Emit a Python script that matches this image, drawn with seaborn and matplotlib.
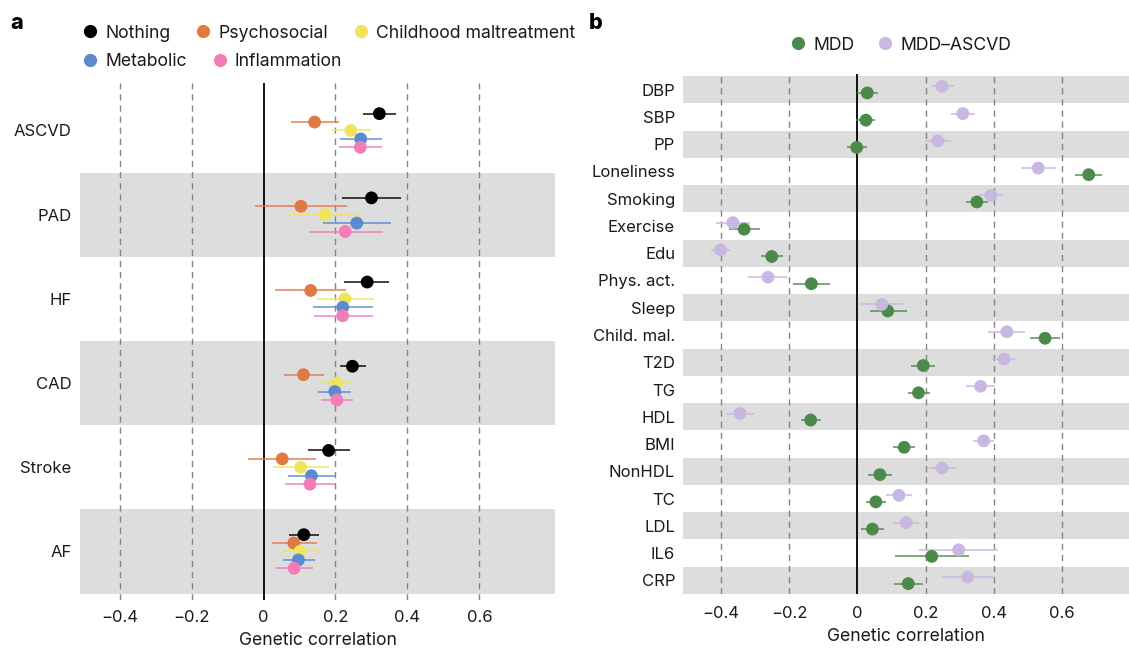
import numpy as np
import pandas as pd
import matplotlib
matplotlib.use("Agg")
import matplotlib.pyplot as plt
from matplotlib.lines import Line2D
import seaborn as sns

# ---------------- Panel a: CVD outcomes, rg with MDD under adjustments ----------------
outcomes = ["ASCVD", "PAD", "HF", "CAD", "Stroke", "AF"]
adjustments = ["Nothing", "Psychosocial", "Childhood maltreatment", "Metabolic", "Inflammation"]

nothing_est = [0.322, 0.300, 0.288, 0.247, 0.181, 0.112]
nothing_lo = [0.276, 0.217, 0.225, 0.212, 0.123, 0.071]
nothing_hi = [0.367, 0.381, 0.349, 0.284, 0.239, 0.154]

psycho_est = [0.142, 0.104, 0.131, 0.111, 0.052, 0.084]
psycho_lo = [0.076, -0.024, 0.032, 0.056, -0.043, 0.024]
psycho_hi = [0.211, 0.232, 0.229, 0.167, 0.146, 0.148]

child_est = [0.243, 0.171, 0.226, 0.203, 0.103, 0.101]
child_lo = [0.189, 0.068, 0.148, 0.158, 0.025, 0.050]
child_hi = [0.298, 0.274, 0.307, 0.250, 0.181, 0.154]

metab_est = [0.270, 0.259, 0.220, 0.198, 0.133, 0.097]
metab_lo = [0.212, 0.165, 0.138, 0.152, 0.067, 0.053]
metab_hi = [0.329, 0.354, 0.303, 0.243, 0.200, 0.143]

inflam_est = [0.269, 0.227, 0.220, 0.204, 0.129, 0.085]
inflam_lo = [0.211, 0.125, 0.141, 0.161, 0.059, 0.035]
inflam_hi = [0.328, 0.331, 0.303, 0.250, 0.200, 0.137]

# ---------------- Panel b: traits, rg with MDD and MDD-ASCVD ----------------
traits = ["DBP", "SBP", "PP", "Loneliness", "Smoking", "Exercise", "Edu",
          "Phys. act.", "Sleep", "Child. mal.", "T2D", "TG", "HDL", "BMI",
          "NonHDL", "TC", "LDL", "IL6", "CRP"]
groups_b = ["MDD", "MDD\u2013ASCVD"]

mdd_est = [0.029, 0.025, -0.002, 0.678, 0.350, -0.332, -0.251, -0.135, 0.089, 0.550,
           0.193, 0.179, -0.137, 0.137, 0.066, 0.054, 0.044, 0.218, 0.149]
mdd_lo = [0.000, -0.004, -0.030, 0.639, 0.318, -0.377, -0.283, -0.188, 0.036, 0.505,
          0.157, 0.148, -0.165, 0.103, 0.032, 0.024, 0.012, 0.109, 0.106]
mdd_hi = [0.059, 0.053, 0.027, 0.716, 0.383, -0.286, -0.219, -0.080, 0.144, 0.595,
          0.228, 0.212, -0.106, 0.169, 0.101, 0.084, 0.077, 0.328, 0.193]

ascvd_est = [0.248, 0.309, 0.236, 0.530, 0.391, -0.365, -0.401, -0.262, 0.071, 0.438,
             0.430, 0.361, -0.344, 0.370, 0.248, 0.122, 0.143, 0.297, 0.323]
ascvd_lo = [0.215, 0.273, 0.199, 0.479, 0.356, -0.414, -0.430, -0.320, 0.011, 0.384,
            0.394, 0.318, -0.383, 0.338, 0.209, 0.083, 0.103, 0.182, 0.248]
ascvd_hi = [0.283, 0.344, 0.275, 0.582, 0.427, -0.314, -0.372, -0.206, 0.134, 0.492,
            0.466, 0.404, -0.304, 0.401, 0.288, 0.160, 0.182, 0.413, 0.400]

xticks = [-0.4, -0.2, 0, 0.2, 0.4, 0.6]
xtick_labels = ["\u22120.4", "\u22120.2", "0", "0.2", "0.4", "0.6"]

pal_a = {"Nothing": "#000000", "Psychosocial": "#E07A45",
         "Childhood maltreatment": "#EEE55C", "Metabolic": "#5B8AD1",
         "Inflammation": "#F27DB9"}
pal_b = {"MDD": "#4C8A4C", "MDD\u2013ASCVD": "#C8B7E1"}

sns.set_theme(style="white")
plt.rcParams["font.family"] = ["Inter", "DejaVu Sans"]
TXT = "#1a1a1a"
BAND = "#DDDDDD"
FS = 12          # tick labels
FS_LAB = 12.7    # axis titles and legend entries

# long-format tables
rows = []
series_a = [(nothing_est, nothing_lo, nothing_hi), (psycho_est, psycho_lo, psycho_hi),
            (child_est, child_lo, child_hi), (metab_est, metab_lo, metab_hi),
            (inflam_est, inflam_lo, inflam_hi)]
for k, (adj, (e, lo, hi)) in enumerate(zip(adjustments, series_a)):
    for i, oc in enumerate(outcomes):
        rows.append(dict(outcome=oc, adj=adj, rg=e[i], lo=lo[i], hi=hi[i],
                         y=i + (k - 2) * 0.1))
df_a = pd.DataFrame(rows)

rows = []
series_b = [(mdd_est, mdd_lo, mdd_hi), (ascvd_est, ascvd_lo, ascvd_hi)]
offs_b = [0.12, -0.12]
for g, (e, lo, hi), off in zip(groups_b, series_b, offs_b):
    for i, t in enumerate(traits):
        rows.append(dict(trait=t, group=g, rg=e[i], lo=lo[i], hi=hi[i], y=i + off))
df_b = pd.DataFrame(rows)

W, H = 1129, 649
fig = plt.figure(figsize=(W / 100, H / 100), dpi=100)


def px_axes(l, t, r, b):
    return fig.add_axes([l / W, 1 - b / H, (r - l) / W, (b - t) / H])


def style_axis(ax, n, bands, xlim, ylim, labels, ypad, xpad):
    ax.set_xlim(*xlim)
    ax.set_ylim(*ylim)
    for i in bands:
        ax.axhspan(i - 0.5, i + 0.5, color=BAND, lw=0, zorder=0)
    for xv in xticks:
        if xv != 0:
            ax.axvline(xv, color="#858585", lw=1.0, ls=(0, (4.5, 3.5)), zorder=1)
    ax.axvline(0, color="black", lw=1.3, zorder=1)
    ax.set_xticks(xticks)
    ax.set_xticklabels(xtick_labels)
    ax.set_yticks(range(n))
    ax.set_yticklabels(labels)
    ax.tick_params(axis="x", length=0, pad=xpad, labelsize=FS, labelcolor=TXT)
    ax.tick_params(axis="y", length=0, pad=ypad, labelsize=FS, labelcolor=TXT)
    for s in ax.spines.values():
        s.set_visible(False)
    ax.grid(False)


# ---------------- panel a ----------------
ax_a = px_axes(80, 83, 555, 600)
style_axis(ax_a, len(outcomes), [1, 3, 5], (-0.51, 0.81), (5.576, -0.564), outcomes,
           6, 7)
for adj in adjustments:
    sub = df_a[df_a.adj == adj]
    ax_a.hlines(sub.y, sub.lo, sub.hi, color=pal_a[adj], lw=1.3, alpha=0.8, zorder=2)
sns.scatterplot(data=df_a, x="rg", y="y", hue="adj", palette=pal_a, s=85,
                linewidth=0, legend=False, ax=ax_a, zorder=3)
ax_a.set_xlabel("Genetic correlation", fontsize=FS_LAB, color=TXT, labelpad=5)
ax_a.set_ylabel("")

# ---------------- panel b ----------------
ax_b = px_axes(682.7, 74, 1129, 594)
style_axis(ax_b, len(traits), range(0, len(traits), 2), (-0.512, 0.796),
           (18.5, -0.573), traits, 5.5, 9)
for g in groups_b:
    sub = df_b[df_b.group == g]
    ax_b.hlines(sub.y, sub.lo, sub.hi, color=pal_b[g], lw=1.3, alpha=0.8, zorder=2)
sns.scatterplot(data=df_b, x="rg", y="y", hue="group", palette=pal_b, s=85,
                linewidth=0, legend=False, ax=ax_b, zorder=3)
ax_b.set_xlabel("Genetic correlation", fontsize=FS_LAB, color=TXT, labelpad=5)
ax_b.set_ylabel("")


# ---------------- legends ----------------
def handle(c):
    return Line2D([], [], marker="o", ls="", color=c, markersize=9.5, markeredgewidth=0)


leg_kw = dict(frameon=False, fontsize=FS_LAB, handlelength=0.8, handletextpad=0.45,
              borderpad=0, borderaxespad=0, labelcolor=TXT)
row1 = adjustments[:3]
row2 = adjustments[3:]
fig.legend([handle(pal_a[a]) for a in row1], row1, ncol=3, loc="center left",
           bbox_to_anchor=(83 / W, 1 - 33 / H), columnspacing=1.47, **leg_kw)
fig.legend([handle(pal_a[a]) for a in row2], row2, ncol=2, loc="center left",
           bbox_to_anchor=(83 / W, 1 - 62 / H), columnspacing=1.47, **leg_kw)
fig.legend([handle(pal_b[g]) for g in groups_b], groups_b, ncol=2, loc="center left",
           bbox_to_anchor=(791 / W, 1 - 45 / H), columnspacing=1.35, **leg_kw)

fig.text(17 / W, 1 - 23 / H, "a", fontsize=15.5, fontweight="heavy", ha="center",
         va="center", color="black")
fig.text(596 / W, 1 - 23 / H, "b", fontsize=15.5, fontweight="heavy", ha="center",
         va="center", color="black")

fig.savefig("out.png", dpi=100)
